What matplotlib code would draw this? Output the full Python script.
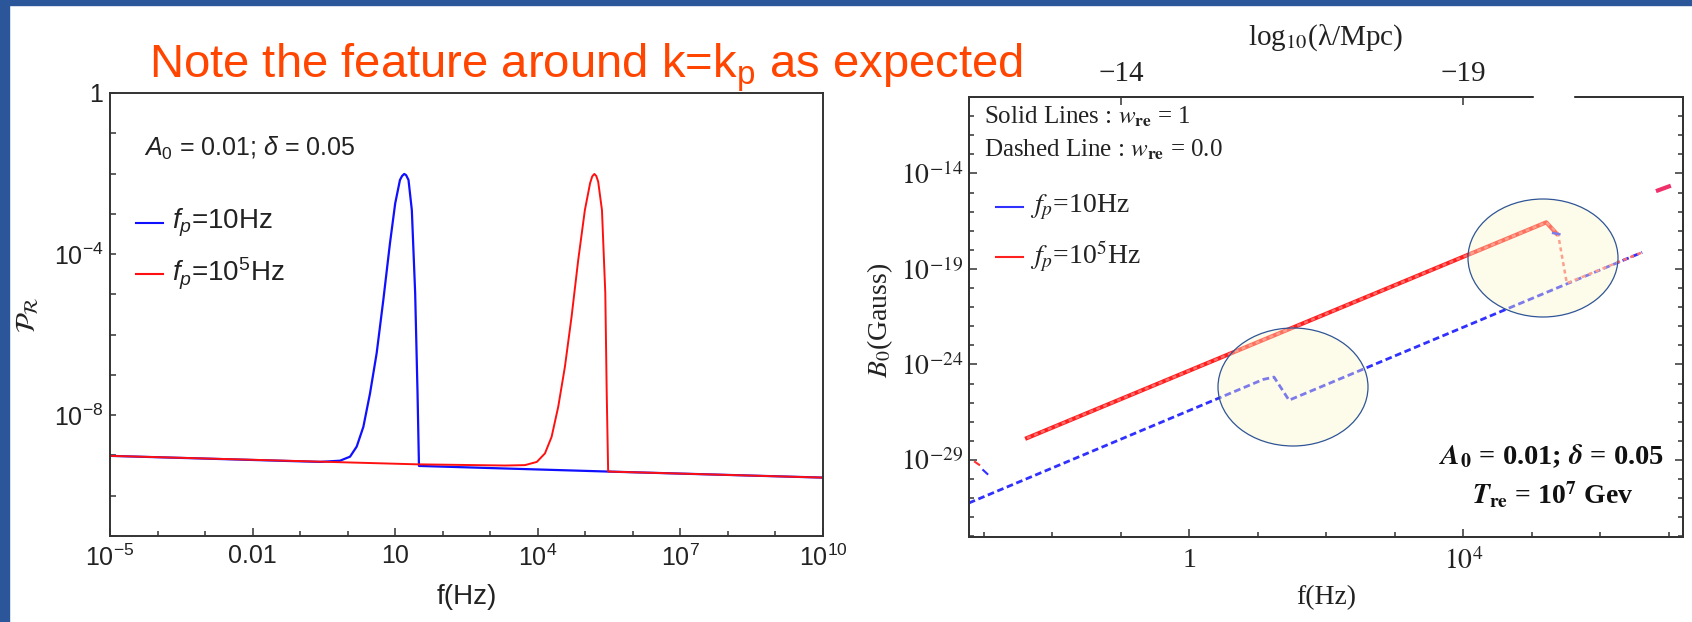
import numpy as np
import matplotlib
matplotlib.use('Agg')
import matplotlib.pyplot as plt
from matplotlib.patches import Rectangle, Ellipse
from matplotlib.lines import Line2D
from matplotlib.ticker import NullFormatter, NullLocator

W, H = 1692, 622

plt.rcParams['font.family'] = ['Liberation Sans', 'DejaVu Sans']
plt.rcParams['mathtext.fontset'] = 'custom'
plt.rcParams['mathtext.rm'] = 'Liberation Sans'
plt.rcParams['mathtext.it'] = 'Liberation Sans:italic'
plt.rcParams['mathtext.bf'] = 'Liberation Sans:bold'

# left panel: P_R(f), log10 values
blue_logf = [-5.0, -0.58, -0.16, 0.05, 0.19, 0.33, 0.47, 0.61, 0.75, 0.89, 1.00,
             1.10, 1.145, 1.19, 1.23, 1.28, 1.35, 1.42, 1.47, 1.50, 5.48, 10.0]
blue_logP = [-9.01, -9.16, -9.13, -9.03, -8.78, -8.29, -7.46, -6.46, -5.14, -3.73, -2.74,
             -2.16, -2.06, -2.01, -2.04, -2.16, -2.91, -4.97, -7.46, -9.26, -9.40, -9.55]

red_logf = [-5.0, 1.45, 3.31, 3.73, 3.98, 4.15, 4.29, 4.43, 4.57, 4.71, 4.85, 4.99,
            5.10, 5.145, 5.19, 5.23, 5.27, 5.35, 5.42, 5.45, 5.48, 10.0]
red_logP = [-9.01, -9.22, -9.25, -9.24, -9.16, -8.95, -8.54, -7.79, -6.80, -5.56, -4.15, -2.91,
            -2.24, -2.07, -2.01, -2.06, -2.20, -2.91, -4.97, -7.46, -9.40, -9.55]

left_xticks = [1e-5, 1e-2, 1e1, 1e4, 1e7, 1e10]
left_xlabels = ['$10^{-5}$', '0.01', '10', '$10^{4}$', '$10^{7}$', '$10^{10}$']
left_yticks = [1.0, 1e-4, 1e-8]
left_ylabels = ['1', '$10^{-4}$', '$10^{-8}$']

# right panel: B_0(f), log10 values
red_solid_logf = [-2.37, 3.98, 5.21, 5.36]
red_solid_logB = [-27.85, -18.39, -16.56, -17.15]
red_dash_logf = [-2.37, 5.21, 5.38, 5.51, 6.61]
red_dash_logB = [-27.85, -16.56, -17.14, -19.75, -18.13]
blue_dash_logf = [-3.22, 1.08, 1.235, 1.454, 6.61]
blue_dash_logB = [-31.25, -24.78, -24.66, -25.87, -18.13]
# short visible bits of the other curves
blue_bit_logf = [-3.01, -2.95]
blue_bit_logB = [-29.53, -29.73]
red_bit_logf = [-3.13, -3.07]
red_bit_logB = [-29.10, -29.25]
top_bit_logf = [6.84, 7.0]
top_bit_logB = [-14.89, -14.68]
peak_bit_logf = [5.31, 5.40]
peak_bit_logB = [-17.12, -17.18]

right_xticks = [1.0, 1e4]
right_xlabels = ['1', '$10^{4}$']
right_yticks = [1e-14, 1e-19, 1e-24, 1e-29]
right_ylabels = ['$10^{-14}$', '$10^{-19}$', '$10^{-24}$', '$10^{-29}$']
# top axis: log10(lambda/Mpc) = lam_offset - log10(f/Hz)
lam_offset = -15
lam_ticks = [-14, -19]
lam_labels = ['\u221214', '\u221219']


def fx(x):
    return x / W


def fy(y):
    return 1 - y / H


fig = plt.figure(figsize=(W / 100, H / 100), dpi=100)
fig.patch.set_facecolor('white')

dark = '#222222'
serif = 'Liberation Serif'

# ---------------- left panel
ax1 = fig.add_axes([fx(110), fy(536), (823 - 110) / W, (536 - 93) / H])
ax1.plot(10.0 ** np.array(blue_logf), 10.0 ** np.array(blue_logP), color='#1010ff', lw=1.6)
ax1.plot(10.0 ** np.array(red_logf), 10.0 ** np.array(red_logP), color='#ff1010', lw=1.4)
ax1.set_xscale('log')
ax1.set_yscale('log')
ax1.set_xlim(1e-5, 1e10)
ax1.set_ylim(1e-11, 1)
ax1.set_xticks(left_xticks, left_xlabels)
ax1.set_xticks(10.0 ** np.arange(-5, 11), minor=True)
ax1.set_yticks(left_yticks, left_ylabels)
ax1.set_yticks(10.0 ** np.arange(-11, 1), minor=True)
ax1.xaxis.set_minor_formatter(NullFormatter())
ax1.yaxis.set_minor_formatter(NullFormatter())
ax1.tick_params(which='both', direction='in', top=False, right=False,
                width=1.1, color='#333333', labelsize=18, labelcolor=dark)
ax1.tick_params(axis='x', which='major', length=6, pad=6)
ax1.tick_params(axis='x', which='minor', length=3.5)
ax1.tick_params(axis='y', which='both', length=4, pad=5)
for s in ax1.spines.values():
    s.set_linewidth(1.4)
    s.set_color('#333333')
ax1.set_xlabel('f(Hz)', fontsize=20, color=dark, va='center')
ax1.xaxis.set_label_coords(0.5, (536 - 597) / 443)
ax1.set_ylabel(r'$\mathcal{P}_{\mathcal{R}}$', fontsize=20, color=dark, va='center',
               math_fontfamily='stix')
ax1.yaxis.set_label_coords((28 - 110) / 713, 0.5)

fig.text(fx(144), fy(148), r'$A_0$ = 0.01; $\delta$ = 0.05', fontsize=18, color=dark, va='center')
fig.add_artist(Line2D([fx(136), fx(163)], [fy(223), fy(223)], color='#1010ff', lw=1.5))
fig.add_artist(Line2D([fx(136), fx(163)], [fy(274), fy(274)], color='#ff1010', lw=1.5))
fig.text(fx(172), fy(223), r'$f_p$=10Hz', fontsize=20, color=dark, va='center')
fig.text(fx(172), fy(274), r'$f_p$=10$^5$Hz', fontsize=20, color=dark, va='center')

# ---------------- right panel
ax2 = fig.add_axes([fx(969), fy(537), (1683 - 969) / W, (537 - 97) / H])
ax2.plot(10.0 ** np.array(blue_dash_logf), 10.0 ** np.array(blue_dash_logB), color='#3030ff',
         lw=2.0, dashes=(2.4, 1.3), zorder=2)
ax2.plot(10.0 ** np.array(red_solid_logf), 10.0 ** np.array(red_solid_logB), color='#ff1f1f',
         lw=3.0, zorder=3)
ax2.plot(10.0 ** np.array(red_dash_logf), 10.0 ** np.array(red_dash_logB), color='#ff6a6a',
         lw=1.8, dashes=(1.6, 1.4), zorder=4)
ax2.plot(10.0 ** np.array(blue_bit_logf), 10.0 ** np.array(blue_bit_logB), color='#3030ff', lw=1.5)
ax2.plot(10.0 ** np.array(red_bit_logf), 10.0 ** np.array(red_bit_logB), color='#ff3030', lw=1.5)
ax2.plot(10.0 ** np.array(top_bit_logf), 10.0 ** np.array(top_bit_logB), color='#f0306a', lw=3.0)
ax2.plot(10.0 ** np.array(peak_bit_logf), 10.0 ** np.array(peak_bit_logB), color='#3030ff', lw=1.8,
         zorder=5)
ax2.set_xscale('log')
ax2.set_yscale('log')
ax2.set_xlim(10 ** -3.218, 10 ** 7.206)
ax2.set_ylim(10 ** -33.03, 10 ** -10.03)
ax2.set_xticks(right_xticks, right_xlabels)
ax2.set_xticks(10.0 ** np.arange(-3, 8), minor=True)
ax2.set_yticks(right_yticks, right_ylabels)
ax2.set_yticks(10.0 ** np.arange(-33, -9), minor=True)
ax2.xaxis.set_minor_formatter(NullFormatter())
ax2.yaxis.set_minor_formatter(NullFormatter())
ax2.tick_params(which='both', direction='in', top=False, right=True,
                width=1.1, color='#333333', labelsize=20, labelcolor=dark)
ax2.tick_params(which='major', length=6)
ax2.tick_params(which='minor', length=3.5)
ax2.tick_params(axis='x', pad=8)
ax2.tick_params(axis='y', pad=4)
for lbl in ax2.get_xticklabels() + ax2.get_yticklabels():
    lbl.set_fontfamily(serif)
    lbl.set_math_fontfamily('stix')
for s in ax2.spines.values():
    s.set_linewidth(1.4)
    s.set_color('#333333')
ax2.set_xlabel('f(Hz)', fontsize=20, color=dark, family=serif, va='center')
ax2.xaxis.set_label_coords(0.5, (537 - 598) / 440)
ax2.set_ylabel(r'$B_0$(Gauss)', fontsize=20, color=dark, family=serif, va='center',
               math_fontfamily='stix')
ax2.yaxis.set_label_coords((880 - 969) / 714, (537 - 320) / 440)

# top axis in wavelength
ax_top = ax2.twiny()
ax_top.set_xscale('log')
ax_top.set_xlim(ax2.get_xlim())
ax_top.set_xticks(10.0 ** (lam_offset - np.array(lam_ticks, dtype=float)), lam_labels)
ax_top.xaxis.set_minor_locator(NullLocator())
ax_top.tick_params(axis='x', direction='in', length=6, width=1.1, color='#333333', labelsize=21,
                   labelcolor=dark, pad=7)
for lbl in ax_top.get_xticklabels():
    lbl.set_fontfamily(serif)
for s in ax_top.spines.values():
    s.set_linewidth(1.4)
    s.set_color('#333333')
ax_top.set_xlabel('log$_{10}$(\u03bb/Mpc)', fontsize=21, color=dark, family=serif, va='center',
                  math_fontfamily='stix')
ax_top.xaxis.set_label_coords(0.5, (537 - 38) / 440)

fig.text(fx(984), fy(117), r'Solid Lines : $w_{\mathbf{re}}$ = 1', fontsize=18, color=dark,
         family=serif, va='center', math_fontfamily='stix')
fig.text(fx(984), fy(150), r'Dashed Line : $w_{\mathbf{re}}$ = 0.0', fontsize=18, color=dark,
         family=serif, va='center', math_fontfamily='stix')
fig.add_artist(Line2D([fx(996), fx(1023)], [fy(207), fy(207)], color='#3030ff', lw=1.5))
fig.add_artist(Line2D([fx(996), fx(1023)], [fy(257), fy(257)], color='#ff2020', lw=1.5))
fig.text(fx(1030), fy(207), r'$f_p$=10Hz', fontsize=20, color=dark, family=serif, va='center',
         math_fontfamily='stix')
fig.text(fx(1030), fy(257), r'$f_p$=10$^5$Hz', fontsize=20, color=dark, family=serif, va='center',
         math_fontfamily='stix')
fig.text(fx(1552), fy(456), r'$\mathbfit{A}_\mathbf{0}$ = 0.01; $\mathbfit{\delta}$ = 0.05',
         fontsize=20.5, color='#111111', family=serif, weight='bold', ha='center', va='center',
         math_fontfamily='stix')
fig.text(fx(1553), fy(495), r'$\mathbfit{T}_\mathbf{re}$ = 10$^\mathbf{7}$ Gev',
         fontsize=20, color='#111111', family=serif, weight='bold', ha='center', va='center',
         math_fontfamily='stix')

# highlight circles from the slide
for cx, cy in [(1543, 258), (1293, 387)]:
    fig.add_artist(Ellipse((fx(cx), fy(cy)), 150 / W, 118 / H, transform=fig.transFigure,
                           facecolor=(0.985, 0.965, 0.78, 0.38), edgecolor='#2F5597',
                           lw=0.9, zorder=15))

# white gap in top frame
fig.add_artist(Rectangle((fx(1534), fy(102)), (1573 - 1534) / W, 10 / H,
                         transform=fig.transFigure, color='white', zorder=20))

# title
fig.text(fx(149), fy(78), r'Note the feature around k=k$_{\mathregular{p}}$ as expected',
         fontsize=34, color='#FF4500', va='baseline')

# slide border
fig.add_artist(Rectangle((0, 0), 9 / W, 1, transform=fig.transFigure, color='#2B579A', zorder=30))
fig.add_artist(Rectangle((0, 1 - 5 / H), 1, 5 / H, transform=fig.transFigure, color='#2B579A',
                         zorder=30))

fig.savefig('out.png', dpi=100)
